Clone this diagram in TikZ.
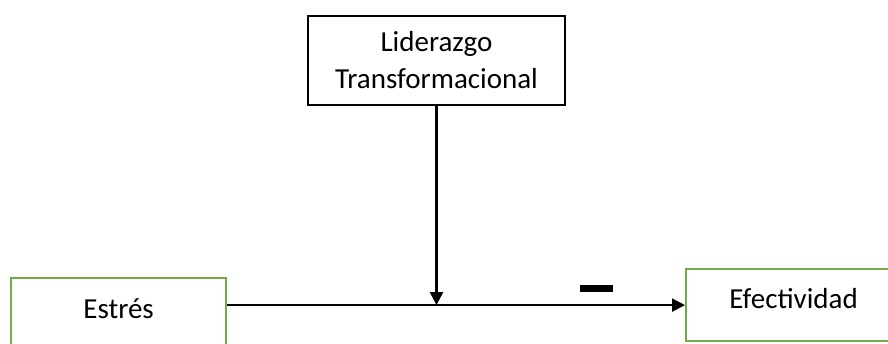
\documentclass[tikz,border=0pt]{standalone}
\usepackage{fontspec}
\setmainfont{Carlito}
\usetikzlibrary{arrows.meta}
\definecolor{boxgreen}{RGB}{112,173,71}
\begin{document}
\begin{tikzpicture}[x=1pt,y=-1pt,
  greenbox/.style={draw=boxgreen,line width=2.2pt,inner sep=0pt,minimum width=215pt,font=\fontsize{29}{35}\selectfont,align=center,text width=215pt},
  blackbox/.style={draw=black,line width=2.6pt,inner sep=0pt,minimum width=257pt,minimum height=89pt,font=\fontsize{29}{37}\selectfont,align=center},
  conn/.style={line width=2.2pt,-{Triangle[length=13pt,width=13pt]}}]
\useasboundingbox (0,0) rectangle (888,343);
\node[greenbox,anchor=north west,text height=40pt,text depth=40pt] (estres) at (10,277) {Estrés};
\node[greenbox,anchor=north west,text height=39pt,text depth=33pt] (efect) at (685,268) {Efectividad};
\node[blackbox] (lid) at (436.5,60.5) {Liderazgo\\Transformacional};
\node[fill=black,inner sep=0pt,minimum width=33pt,minimum height=7pt] (minus) at (596,288) {};
\draw[conn] (estres.east |- efect.west) -- (efect.west);
\draw[conn] (lid.south) -- (lid.south |- efect.west);
\end{tikzpicture}
\end{document}
